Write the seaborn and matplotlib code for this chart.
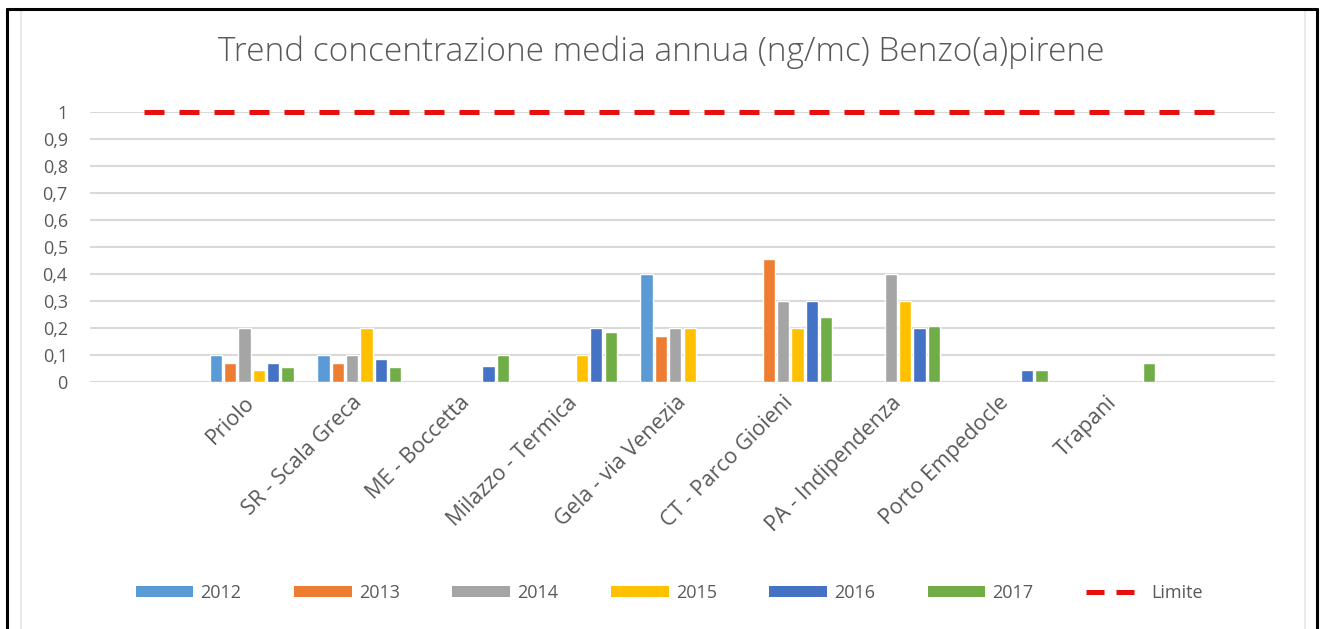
import numpy as np
import pandas as pd
import matplotlib
matplotlib.use("Agg")
import matplotlib.pyplot as plt
from matplotlib.lines import Line2D
from matplotlib.patches import Patch, Rectangle
import seaborn as sns

# Monitoring stations (x categories)
stations = ["Priolo", "SR - Scala Greca", "ME - Boccetta", "Milazzo - Termica",
            "Gela - via Venezia", "CT - Parco Gioieni", "PA - Indipendenza",
            "Porto Empedocle", "Trapani"]
years = ["2012", "2013", "2014", "2015", "2016", "2017"]

nan = np.nan
# Annual mean concentration (ng/m3), one list per year, NaN = no data
v2012 = [0.100, 0.100, nan, nan, 0.400, nan, nan, nan, nan]
v2013 = [0.070, 0.070, nan, nan, 0.168, 0.455, nan, nan, nan]
v2014 = [0.200, 0.100, nan, nan, 0.200, 0.300, 0.400, nan, nan]
v2015 = [0.045, 0.200, nan, 0.100, 0.200, 0.200, 0.300, nan, nan]
v2016 = [0.070, 0.085, 0.058, 0.200, nan, 0.300, 0.200, 0.044, nan]
v2017 = [0.055, 0.055, 0.100, 0.185, nan, 0.240, 0.207, 0.044, 0.068]

# Target value, spanning one empty slot on each side of the stations
limite = [1, 1, 1, 1, 1, 1, 1, 1, 1, 1, 1]

yticks = [0, 0.1, 0.2, 0.3, 0.4, 0.5, 0.6, 0.7, 0.8, 0.9, 1]

colors = ["#5B9BD5", "#ED7D31", "#A5A5A5", "#FFC000", "#4472C4", "#70AD47"]
limit_color = "#E8100F"
text_color = "#595959"
grid_color = "#D9D9D9"

series = [v2012, v2013, v2014, v2015, v2016, v2017]
rows = []
for yr, vals in zip(years, series):
    for st, v in zip(stations, vals):
        if not np.isnan(v):
            rows.append({"Stazione": st, "Anno": yr, "Valore": v})
df = pd.DataFrame(rows)

sns.set_theme(style="white")
plt.rcParams["font.family"] = ["Open Sans", "DejaVu Sans"]

W, H = 1325, 629
fig = plt.figure(figsize=(W / 100, H / 100), dpi=100)
fig.patch.set_facecolor("white")

# Outer black frame (open at the bottom) and light chart-area border
fig.add_artist(Line2D([6.5 / W, 6.5 / W], [0, 1 - 8.5 / H], color="black", lw=2.2,
                      transform=fig.transFigure))
fig.add_artist(Line2D([6.5 / W, 1316.5 / W], [1 - 8.5 / H, 1 - 8.5 / H], color="black",
                      lw=2.2, transform=fig.transFigure))
fig.add_artist(Line2D([1316.5 / W, 1316.5 / W], [0, 1 - 8.5 / H], color="black", lw=2.2,
                      transform=fig.transFigure))
fig.add_artist(Rectangle((21 / W, -0.01), (1305 - 21) / W, 1 - 10 / H + 0.01,
                         transform=fig.transFigure, fill=False,
                         edgecolor="#E6E6E6", lw=1.2))

left, right = 90 / W, 1275 / W
bottom, top = 1 - 381.7 / H, 1 - 111.7 / H
ax = fig.add_axes([left, bottom, right - left, top - bottom])
ax.set_facecolor("none")

sns.barplot(data=df, x="Stazione", y="Valore", hue="Anno", order=stations,
            hue_order=years, palette=colors, width=0.8, gap=0.15,
            errorbar=None, legend=False, ax=ax, zorder=3, saturation=1)

xpos = np.arange(-1, len(stations) + 1)
ax.plot(xpos, limite, color=limit_color, lw=3.6, dashes=(4.0, 3.0),
        solid_capstyle="butt", dash_capstyle="butt", zorder=4, clip_on=False)

ax.set_xlim(-1.5, len(stations) + 0.5)
ax.set_ylim(0, 1)
ax.set_yticks(yticks)
ax.set_yticklabels([("%g" % t).replace(".", ",") for t in yticks],
                   color=text_color, fontsize=13)
ax.yaxis.grid(True, color=grid_color, lw=1.5, zorder=0)
ax.set_axisbelow(True)
ax.tick_params(axis="y", length=0, pad=16)
ax.tick_params(axis="x", length=0, pad=13)
ax.set_xticks(range(len(stations)))
ax.set_xticklabels(stations, rotation=45, ha="right", va="center",
                   rotation_mode="anchor", color=text_color, fontsize=15.5)
for s in ax.spines.values():
    s.set_visible(False)
ax.set_xlabel("")
ax.set_ylabel("")

fig.text(0.499, 1 - 52 / H, "Trend concentrazione media annua (ng/mc) Benzo(a)pirene",
         ha="center", va="center", fontsize=24, color=text_color, fontweight="light")

handles = [Patch(facecolor=c, edgecolor="none") for c in colors]
handles.append(Line2D([0], [0], color=limit_color, lw=3.6, dashes=(3.6, 2.4)))
labels = years + ["Limite"]
fig.legend(handles, labels, loc="center", bbox_to_anchor=(0.505, 1 - 593 / H),
           ncol=7, frameon=False, fontsize=13, labelcolor=text_color,
           handlelength=3.2, handleheight=0.6, handletextpad=0.4,
           columnspacing=2.9)

fig.savefig("out.png", dpi=100, facecolor="white")
